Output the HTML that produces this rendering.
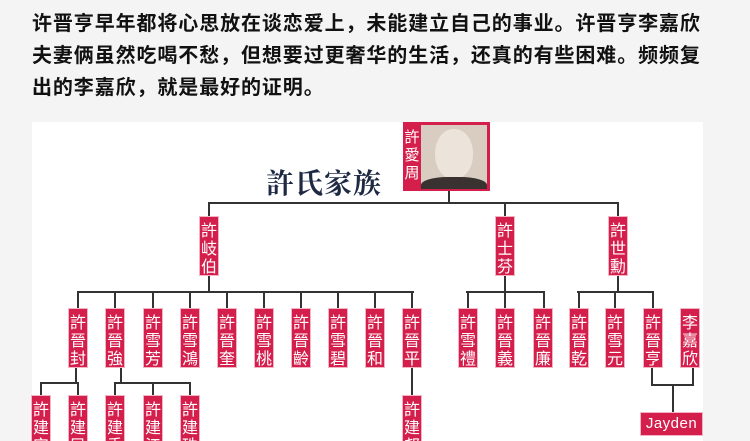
<!DOCTYPE html>
<html><head><meta charset="utf-8"><style>
html,body{margin:0;width:750px;height:441px;overflow:hidden}
body{background:#f4f4f4;position:relative;font-family:"Liberation Sans","Noto Sans CJK SC",sans-serif}
.t{position:absolute;left:32px;top:8px;width:720px;white-space:nowrap;font-size:20px;line-height:32px;font-weight:bold;color:#111;letter-spacing:0.9px}
.img{position:absolute;left:32px;top:122px;width:671px;height:319px;background:#fff}
.b{position:absolute;width:18px;height:58px;background:#d41f4c;color:#fff;font-size:16px;line-height:18px;text-align:center;box-sizing:border-box;padding-top:3px;box-shadow:0 0 0 1px #f3b5c4;font-family:"Noto Sans CJK TC",sans-serif}
.h{position:absolute;height:2px;background:#333}
.v{position:absolute;width:2px;background:#333}
</style></head><body>
<div class="t">许晋亨早年都将心思放在谈恋爱上，未能建立自己的事业。许晋亨李嘉欣<br>夫妻俩虽然吃喝不愁，但想要过更奢华的生活，还真的有些困难。频频复<br>出的李嘉欣，就是最好的证明。</div>
<div class="img"></div>
<div style="position:absolute;left:266px;top:162px;font-size:28px;font-weight:bold;color:#1e2a44;font-family:'Noto Serif CJK SC',serif;letter-spacing:1px">許氏家族</div>
<!-- photo -->
<div style="position:absolute;left:403px;top:122px;width:87px;height:69px;background:#d41f4c"></div>
<div style="position:absolute;left:421px;top:125px;width:66px;height:64px;background:#d9cdc2;overflow:hidden">
<div style="position:absolute;left:14px;top:4px;width:38px;height:50px;border-radius:48%;background:#ece4da"></div>
<div style="position:absolute;left:0;top:52px;width:66px;height:20px;border-radius:40% 40% 0 0;background:#3a3230"></div>
</div>
<div style="position:absolute;left:404px;top:128px;width:16px;color:#fff;font-size:15px;line-height:18px;text-align:center;font-family:'Noto Sans CJK TC',sans-serif">許<br>愛<br>周</div>
<!-- lines -->
<div class="v" style="left:448px;top:191px;height:13px"></div>
<div class="h" style="left:208px;top:202px;width:411px"></div>
<div class="v" style="left:208px;top:202px;height:15px"></div>
<div class="v" style="left:504px;top:202px;height:15px"></div>
<div class="v" style="left:617px;top:202px;height:15px"></div>
<div class="v" style="left:208px;top:275px;height:17px"></div>
<div class="v" style="left:504px;top:275px;height:17px"></div>
<div class="v" style="left:617px;top:275px;height:17px"></div>
<div class="h" style="left:77px;top:291px;width:337px"></div>
<div class="h" style="left:466px;top:291px;width:79px"></div>
<div class="h" style="left:577px;top:291px;width:77px"></div>
<div class="v" style="left:77px;top:291px;height:18px"></div><div class="v" style="left:114px;top:291px;height:18px"></div><div class="v" style="left:152px;top:291px;height:18px"></div><div class="v" style="left:189px;top:291px;height:18px"></div><div class="v" style="left:226px;top:291px;height:18px"></div><div class="v" style="left:263px;top:291px;height:18px"></div><div class="v" style="left:300px;top:291px;height:18px"></div><div class="v" style="left:337px;top:291px;height:18px"></div><div class="v" style="left:374px;top:291px;height:18px"></div><div class="v" style="left:411px;top:291px;height:18px"></div>
<div class="v" style="left:467px;top:291px;height:18px"></div><div class="v" style="left:504px;top:291px;height:18px"></div><div class="v" style="left:543px;top:291px;height:18px"></div>
<div class="v" style="left:578px;top:291px;height:18px"></div><div class="v" style="left:614px;top:291px;height:18px"></div><div class="v" style="left:652px;top:291px;height:18px"></div>
<!-- gen4 lines -->
<div class="v" style="left:75px;top:367px;height:17px"></div>
<div class="h" style="left:40px;top:382px;width:39px"></div>
<div class="v" style="left:40px;top:382px;height:14px"></div><div class="v" style="left:77px;top:382px;height:14px"></div>
<div class="v" style="left:120px;top:367px;height:17px"></div>
<div class="h" style="left:114px;top:382px;width:77px"></div>
<div class="v" style="left:114px;top:382px;height:14px"></div><div class="v" style="left:152px;top:382px;height:14px"></div><div class="v" style="left:189px;top:382px;height:14px"></div>
<div class="v" style="left:411px;top:367px;height:29px"></div>
<div class="v" style="left:651px;top:367px;height:19px"></div><div class="v" style="left:692px;top:367px;height:19px"></div>
<div class="h" style="left:651px;top:384px;width:43px"></div>
<div class="v" style="left:672px;top:384px;height:29px"></div>
<!-- gen2 -->
<div class="b" style="left:200px;top:217px">許<br>岐<br>伯</div>
<div class="b" style="left:496px;top:217px">許<br>士<br>芬</div>
<div class="b" style="left:609px;top:217px">許<br>世<br>勳</div>
<!-- gen3 -->
<div class="b" style="left:69px;top:309px">許<br>晉<br>封</div>
<div class="b" style="left:106px;top:309px">許<br>晉<br>強</div>
<div class="b" style="left:144px;top:309px">許<br>雪<br>芳</div>
<div class="b" style="left:181px;top:309px">許<br>雪<br>鴻</div>
<div class="b" style="left:218px;top:309px">許<br>晉<br>奎</div>
<div class="b" style="left:255px;top:309px">許<br>雪<br>桃</div>
<div class="b" style="left:292px;top:309px">許<br>晉<br>齡</div>
<div class="b" style="left:329px;top:309px">許<br>雪<br>碧</div>
<div class="b" style="left:366px;top:309px">許<br>晉<br>和</div>
<div class="b" style="left:403px;top:309px">許<br>晉<br>平</div>
<div class="b" style="left:459px;top:309px">許<br>雪<br>禮</div>
<div class="b" style="left:496px;top:309px">許<br>晉<br>義</div>
<div class="b" style="left:534px;top:309px">許<br>晉<br>廉</div>
<div class="b" style="left:570px;top:309px">許<br>晉<br>乾</div>
<div class="b" style="left:606px;top:309px">許<br>雪<br>元</div>
<div class="b" style="left:644px;top:309px">許<br>晉<br>亨</div>
<div class="b" style="left:681px;top:309px">李<br>嘉<br>欣</div>
<!-- gen4 -->
<div class="b" style="left:32px;top:396px">許<br>建<br>安</div>
<div class="b" style="left:69px;top:396px">許<br>建<br>民</div>
<div class="b" style="left:106px;top:396px">許<br>建<br>秀</div>
<div class="b" style="left:144px;top:396px">許<br>建<br>江</div>
<div class="b" style="left:181px;top:396px">許<br>建<br>珠</div>
<div class="b" style="left:403px;top:396px">許<br>建<br>邦</div>
<div class="b" style="left:641px;top:413px;width:61px;height:22px;padding-top:2px;font-family:'Liberation Sans',sans-serif;font-size:15px;letter-spacing:0.5px">Jayden</div>
</body></html>
